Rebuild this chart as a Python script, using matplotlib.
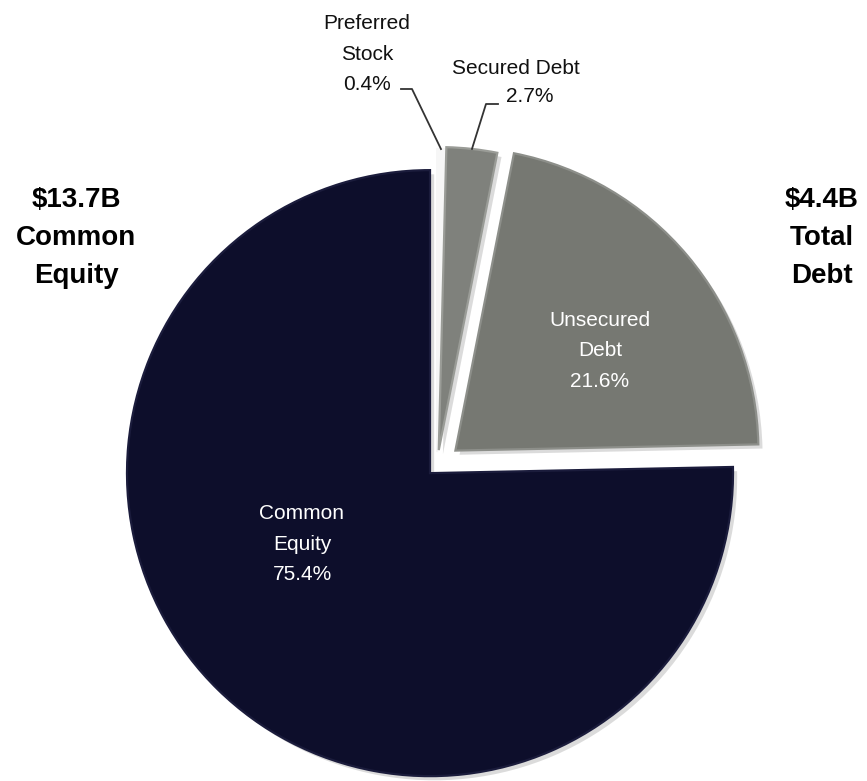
import matplotlib
matplotlib.use("Agg")
import matplotlib.pyplot as plt
import matplotlib.patheffects as pe
import numpy as np

# ---- data ----
categories = ["Preferred Stock", "Secured Debt", "Unsecured Debt", "Common Equity"]
shares = [0.4, 2.7, 21.6, 75.4]
slice_colors = ["#f6f6f6", "#7f817c", "#767872", "#0d0e2b"]
edge_colors = ["#f6f6f6", "#9a9c97", "#8d8f8a", "#1b1c3c"]
explode_px = [14, 16, 24, 10]
side_titles = ["$13.7B\nCommon\nEquity", "$4.4B\nTotal\nDebt"]

W, H = 867, 781
fig = plt.figure(figsize=(W / 100, H / 100), dpi=100)
ax = fig.add_axes([0, 0, 1, 1])

FONT = ["Liberation Sans", "DejaVu Sans"]
plt.rcParams["font.family"] = FONT

cx, cy, R = 437, H - 466, 303
wedges, _ = ax.pie(shares, startangle=90, counterclock=False, colors=slice_colors,
                   explode=explode_px, center=(cx, cy), radius=R, frame=True,
                   wedgeprops=dict(linewidth=1.6))
ax.set_xlim(0, W)
ax.set_ylim(0, H)
ax.set_aspect("equal")
ax.axis("off")
for w, ec in zip(wedges, edge_colors):
    w.set_edgecolor(ec)
    w.set_path_effects([pe.SimplePatchShadow(offset=(3, -3), shadow_rgbFace="#9a9a9a", alpha=0.35),
                        pe.Normal()])
wedges[0].set_path_effects([pe.Normal()])

# inner labels
ax.text(600, H - 351, "Unsecured\nDebt\n21.6%", ha="center", va="center", color="white",
        fontsize=15, linespacing=1.75)
ax.text(302, H - 544, "Common\nEquity\n75.4%", ha="center", va="center", color="white",
        fontsize=15, linespacing=1.75)

# outer labels
ax.text(367, H - 54, "Preferred\nStock\n0.4%", ha="center", va="center", color="#111111",
        fontsize=15, linespacing=1.75)
ax.text(516, H - 68, "Secured Debt", ha="center", va="center", color="#111111", fontsize=15)
ax.text(530, H - 97, "2.7%", ha="center", va="center", color="#111111", fontsize=15)

def wedge_tip(w, frac_along=0.5):
    t1, t2 = w.theta1, w.theta2
    t = np.deg2rad(t1 + (t2 - t1) * frac_along)
    x0, y0 = w.center
    return x0 + w.r * np.cos(t), y0 + w.r * np.sin(t)

# leader lines
px, py = wedge_tip(wedges[0])
ax.plot([401, 412, px], [H - 89, H - 89, py], color="#333333", lw=1.3)
sx, sy = wedge_tip(wedges[1], 0.5)
ax.plot([498, 486, sx], [H - 104, H - 104, sy], color="#333333", lw=1.3)

# side titles
ax.text(76, H - 238, side_titles[0], ha="center", va="center", color="black",
        fontsize=20, fontweight="bold", linespacing=1.6)
ax.text(822, H - 238, side_titles[1], ha="center", va="center", color="black",
        fontsize=20, fontweight="bold", linespacing=1.6)

fig.savefig("out.png", dpi=100, facecolor="white")
